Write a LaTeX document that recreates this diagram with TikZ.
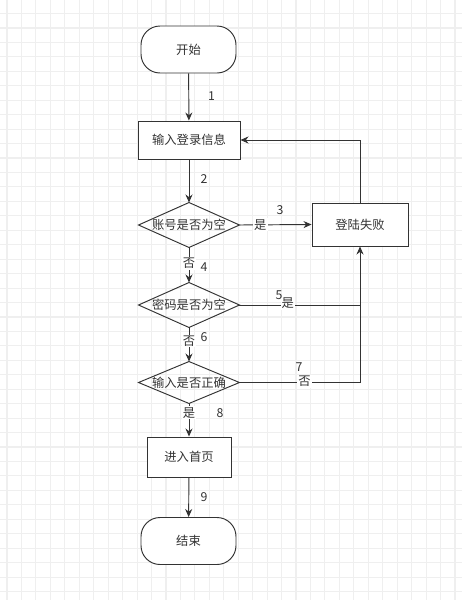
\documentclass[tikz,border=0pt]{standalone}
\usepackage{fontspec}
\setmainfont{Noto Sans CJK SC}
\usetikzlibrary{arrows.meta}
\definecolor{gridc}{HTML}{EFEFEF}
\definecolor{ink}{HTML}{333333}
\begin{document}
\begin{tikzpicture}[x=1pt,y=-1pt,
  font=\fontsize{12.3}{14}\selectfont,
  base/.style={text=ink, inner sep=0pt, line width=0.95pt},
  term/.style={base, draw=ink, fill=white, rounded corners=19pt, minimum width=95pt, minimum height=47pt},
  proc/.style={base, draw=ink, fill=white, minimum width=#1, minimum height=40pt},
  dia/.style={base, minimum width=100pt, minimum height=44pt},
  arr/.style={draw=ink, line width=0.95pt, -{Stealth[length=8pt,width=7pt]}},
  conn/.style={draw=ink, line width=0.95pt},
  lab/.style={fill=white, text=ink, inner sep=1pt},
  num/.style={text=ink, inner sep=0pt}
]
\useasboundingbox (0,0) rectangle (462,600);
\fill[white] (0,0) rectangle (462,600);
\foreach \i in {0,...,31} \draw[gridc, line width=1.1pt] ({7+14.45*\i},0) -- ({7+14.45*\i},600);
\foreach \j in {0,...,40} \draw[gridc, line width=1.1pt] (0,{13.5+14.45*\j}) -- (462,{13.5+14.45*\j});

\node[term] (start) at (188.5,49.5) {开始};
\node[proc=102pt, minimum height=38pt] (input) at (189,140) {输入登录信息};
\node[dia] (d1) at (189,225) {账号是否为空};
\node[proc=96pt, minimum height=43pt] (fail) at (360,224.5) {登陆失败};
\node[dia] (d2) at (189,305) {密码是否为空};
\node[dia, minimum height=41pt] (d3) at (189,382.5) {输入是否正确};
\node[proc=84pt] (home) at (189,457) {进入首页};
\node[term] (end) at (188.5,541) {结束};

\foreach \d in {d1,d2,d3}
  \draw[conn, line join=miter] (\d.north) -- (\d.east) -- (\d.south) -- (\d.west) -- cycle;

\coordinate (j1) at (fail.south |- d2.east);

\draw[arr] (start) -- (input);
\draw[arr] (input) -- (d1);
\draw[arr] (d1.east) -- node[lab, pos=0.29]{是} (fail.west);
\draw[arr] (fail.north) |- (input.east);
\draw[arr] (d1.south) -- node[lab, pos=0.45]{否} (d2.north);
\draw[conn] (d2.east) -- node[lab, pos=0.4, yshift=1.5pt]{是} (j1);
\draw[arr] (j1) -- (fail.south);
\draw[arr] (d2.south) -- node[lab, pos=0.4]{否} (d3.north);
\draw[conn] (d3.east) -| node[lab, pos=0.27, yshift=1pt]{否} (j1);
\draw[arr] (d3.south) -- node[lab, pos=0.28]{是} (home.north);
\draw[arr] (home) -- (end);

\node[num] (n1) at (211.5,96) {1};
\node[num] (n2) at (204,179.5) {2};
\node[num] (n3) at (280,210) {3};
\node[num] (n4) at (204,267) {4};
\node[num] (n5) at (279,295) {5};
\node[num] (n6) at (204,337) {6};
\node[num] (n7) at (299,367) {7};
\node[num] (n8) at (220,413) {8};
\node[num] (n9) at (204,497) {9};
\end{tikzpicture}
\end{document}
